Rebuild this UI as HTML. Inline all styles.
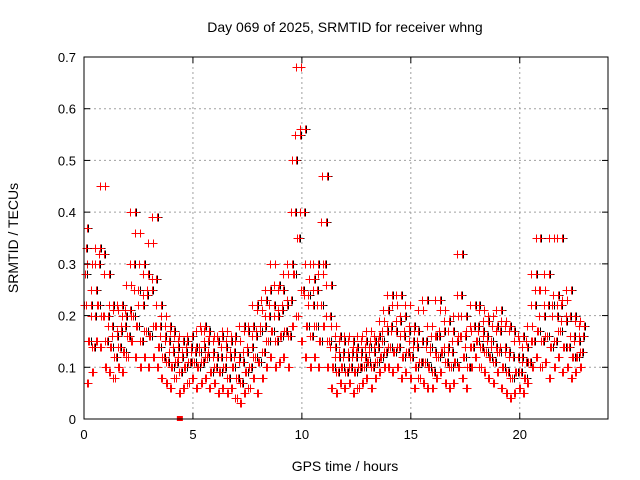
<!DOCTYPE html>
<html><head><meta charset="utf-8"><style>
html,body{margin:0;padding:0;background:#fff;}
svg{display:block;font-family:"Liberation Sans",sans-serif;}
</style></head><body>
<svg id="chart" width="640" height="480" viewBox="0 0 640 480" xmlns="http://www.w3.org/2000/svg">
<rect width="640" height="480" fill="#fff"/>
<text x="345" y="32" font-size="14" text-anchor="middle">Day 069 of 2025, SRMTID for receiver whng</text>
<text x="0" y="0" font-size="14" text-anchor="middle" transform="translate(18,238) rotate(-90)">SRMTID / TECUs</text>
<text x="345" y="471" font-size="14" text-anchor="middle">GPS time / hours</text>
<g id="grid"></g><g id="marks"></g><g id="axes"></g>
</svg>
<script>
const xTicks=[0,5,10,15,20];
const yTicks=[0,0.1,0.2,0.3,0.4,0.5,0.6,0.7];
const yTickLabels=["0","0.1","0.2","0.3","0.4","0.5","0.6","0.7"];
const timeStep=0.2;
const redLo=[.22,.07,.09,.15,.14,.10,.09,.08,.10,.09,.12,.15,.12,.10,.12,.10,.12,.10,.08,.07,.06,.08,.05,.06,.07,.08,.06,.07,.08,.06,.07,.05,.06,.05,.06,.04,.03,.05,.06,.08,.05,.08,.10,.12,.10,.11,.12,.10,.18,.20,.15,.12,.10,.12,.10,.18,.10,.06,.05,.07,.06,.07,.05,.06,.07,.08,.06,.08,.09,.10,.10,.09,.10,.08,.09,.08,.06,.08,.07,.06,.06,.08,.09,.07,.06,.07,.10,.08,.06,.10,.12,.10,.09,.08,.07,.09,.06,.05,.04,.05,.06,.05,.07,.10,.12,.10,.11,.08,.10,.12,.09,.10,.08,.09,.10];
const redM1=[.28,.15,.14,.22,.20,.15,.14,.12,.14,.13,.16,.20,.18,.15,.17,.16,.18,.14,.12,.11,.10,.11,.09,.10,.11,.11,.10,.11,.12,.09,.10,.09,.10,.08,.10,.08,.07,.09,.10,.12,.11,.13,.15,.17,.15,.16,.17,.16,.28,.35,.25,.18,.16,.18,.15,.30,.15,.10,.09,.10,.09,.10,.09,.10,.10,.11,.10,.11,.12,.13,.14,.13,.14,.12,.13,.12,.10,.11,.11,.10,.09,.12,.13,.11,.10,.11,.16,.12,.10,.14,.15,.14,.13,.12,.11,.13,.10,.09,.08,.09,.09,.08,.11,.15,.17,.15,.16,.14,.15,.17,.14,.14,.12,.12,.13];
const redM2=[.33,.22,.20,.30,.32,.20,.18,.16,.17,.18,.21,.30,.25,.22,.24,.25,.27,.18,.16,.15,.13,.14,.12,.13,.14,.13,.13,.14,.15,.13,.12,.12,.14,.12,.13,.12,.11,.13,.14,.16,.17,.18,.20,.22,.20,.21,.22,.23,.40,.55,.40,.24,.22,.25,.22,.38,.20,.14,.12,.13,.12,.13,.12,.13,.12,.14,.13,.14,.15,.17,.18,.17,.19,.16,.17,.15,.14,.15,.15,.14,.13,.16,.17,.14,.13,.15,.24,.16,.14,.18,.18,.17,.16,.15,.14,.17,.14,.13,.12,.12,.12,.11,.15,.22,.25,.20,.22,.22,.20,.22,.19,.20,.16,.15,.16];
const redHi=[.37,.30,.25,.33,.45,.28,.22,.21,.22,.20,.26,.40,.36,.30,.28,.34,.39,.22,.20,.18,.17,.16,.15,.15,.16,.14,.17,.18,.17,.16,.15,.16,.17,.15,.16,.15,.18,.17,.18,.22,.21,.23,.25,.30,.26,.25,.28,.30,.50,.68,.56,.30,.27,.30,.28,.47,.26,.18,.16,.15,.16,.15,.14,.16,.15,.17,.15,.16,.19,.21,.24,.22,.24,.20,.22,.18,.17,.21,.23,.18,.16,.23,.21,.19,.17,.20,.32,.20,.17,.22,.22,.21,.19,.20,.18,.21,.19,.18,.17,.15,.16,.14,.18,.28,.35,.25,.28,.35,.24,.35,.23,.25,.20,.19,.18];
const redSquareTime=[4.4];
const redSquareValue=[0];
const NS="http://www.w3.org/2000/svg";
const L=84,R=608,T=57,B=419,xMax=24.05,yMax=0.7;
const xs=t=>L+t/xMax*(R-L);
const ys=v=>B-v/yMax*(B-T);
function mk(tag,attrs,parent){const e=document.createElementNS(NS,tag);for(const k in attrs)e.setAttribute(k,attrs[k]);parent.appendChild(e);return e;}
const grid=document.getElementById('grid'),axes=document.getElementById('axes'),marks=document.getElementById('marks');
xTicks.forEach((t,i)=>{
  const x=xs(t);
  if(t>0){const g=mk('line',{x1:x,y1:T,x2:x,y2:B,stroke:'#a0a0a0','stroke-dasharray':'2,3'},grid);
  
  }
  mk('line',{x1:x,y1:B,x2:x,y2:B-6,stroke:'#000'},axes);
  mk('line',{x1:x,y1:T,x2:x,y2:T+6,stroke:'#000'},axes);
  const lb=mk('text',{x:x,y:B+20,'font-size':13,'text-anchor':'middle'},axes);
  lb.textContent=String(t);
  
  
});
yTicks.forEach((v,i)=>{
  const y=ys(v);
  if(v>0&&v<yMax){const g=mk('line',{x1:L,y1:y,x2:R,y2:y,stroke:'#a0a0a0','stroke-dasharray':'2,3'},grid);
  
  }
  mk('line',{x1:L,y1:y,x2:L+6,y2:y,stroke:'#000'},axes);
  mk('line',{x1:R,y1:y,x2:R-6,y2:y,stroke:'#000'},axes);
  const lb=mk('text',{x:L-8,y:y+5,'font-size':13,'text-anchor':'end'},axes);
  lb.textContent=yTickLabels[i];
  
  
});
const frame=mk('rect',{x:L,y:T,width:R-L,height:B-T,fill:'none',stroke:'#000'},axes);


function plus(t,v,color,name){
  const x=Math.round(xs(t))+0.5,y=Math.round(ys(v))+0.5;
  const p=mk('path',{d:`M${x-4} ${y}H${x+4}M${x} ${y-4}V${y+4}`,stroke:color,'stroke-width':1,fill:'none'},marks);
  
  
}
const series=[redLo,redM1,redM2,redHi];
[redM1,redM2,redHi].forEach((arr,k)=>arr.forEach((v,i)=>plus(i*timeStep+0.12+k*0.03,v,'#000','black-point')));
series.forEach((arr,k)=>arr.forEach((v,i)=>plus(i*timeStep+k*0.05,v,'#ff0000','red-point')));
series.forEach((arr,k)=>{const other=series[(k+2)%4];arr.forEach((v,i)=>{if(i+1<other.length)plus(i*timeStep+0.1+k*0.025,other[i+1],'#ff0000','red-point');});});
redSquareTime.forEach((t,i)=>{
  const s=mk('rect',{x:xs(t)-3,y:ys(redSquareValue[i])-3,width:6,height:5,fill:'#ff0000'},marks);
  
  
});
</script>
</body></html>
